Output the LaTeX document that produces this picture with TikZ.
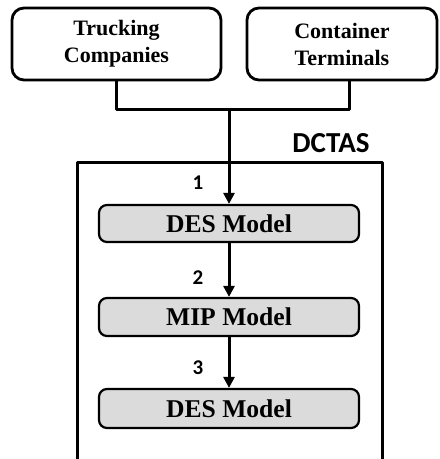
\documentclass[tikz,border=0pt]{standalone}
\usepackage{fontspec}
\setmainfont{Liberation Serif}
\newfontfamily\calibri{Carlito}
\usetikzlibrary{arrows.meta}
\begin{document}
\begin{tikzpicture}[x=0.5pt,y=-0.5pt,>={Triangle[width=5.5pt,length=5.5pt]},line join=round]
	\tikzset{source box/.style={draw,line width=1.4pt,rounded corners=6pt,align=center,minimum height=36pt,font=\bfseries\fontsize{11}{13.5}\selectfont},
		model box/.style={draw,line width=1.1pt,rounded corners=4pt,fill=gray!28,minimum width=130pt,font=\bfseries\fontsize{12.8}{15}\selectfont},
		step label/.style={font=\calibri\bfseries\fontsize{10.5}{12}\selectfont},
		link/.style={line width=1.5pt}}
	%%Khung hình
	\useasboundingbox (0,0) rectangle (439,459);
	%%Hai nguồn dữ liệu
	\node[source box,minimum width=104.5pt] (truck) at (116.5,44) {Trucking\\Companies};
	\node[source box,minimum width=95pt] (term) at (342,44) {Container\\Terminals};
	\coordinate (join) at (229,110);
	%%Khung DCTAS
	\draw[link] (77,459) |- (382,163) -- (382,459);
	\node[font=\calibri\bfseries\fontsize{14.5}{16}\selectfont] (dctas) at (331,143) {DCTAS};
	%%Các mô hình
	\node[model box,minimum height=18.5pt] (des1) at (229,223.5) {DES Model};
	\node[model box,minimum height=19pt] (mip) at (229,317) {MIP Model};
	\node[model box,minimum height=19.5pt] (des2) at (229,408.5) {DES Model};
	%%Các mũi tên
	\draw[link] (truck.south) |- (join) -| ([xshift=3.5pt]term.south);
	\draw[link,->] (join) -- (des1.north);
	\draw[link,->] (des1) -- (mip);
	\draw[link,->] (mip) -- (des2);
	\draw 
	(198,183) node[step label] (n1) {1}
	(198,278) node[step label] (n2) {2}
	(198,368) node[step label] (n3) {3}
	;
\end{tikzpicture}
\end{document}
